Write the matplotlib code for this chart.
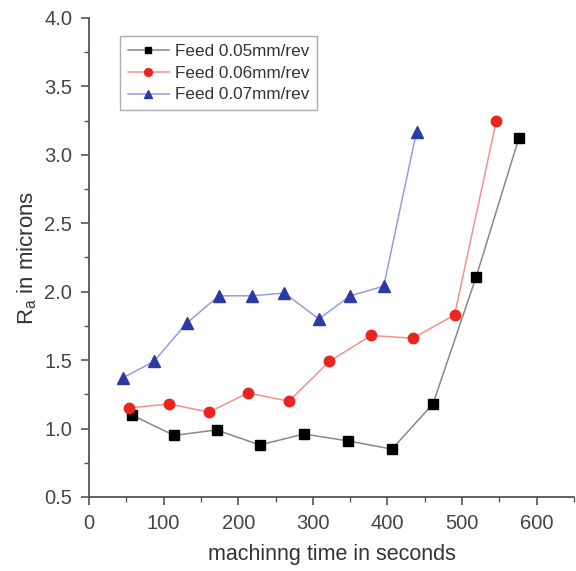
import matplotlib.pyplot as plt
from matplotlib.ticker import MultipleLocator

plt.rcParams['font.family'] = ['Liberation Sans', 'DejaVu Sans']
plt.rcParams['mathtext.fontset'] = 'custom'
plt.rcParams['mathtext.rm'] = 'Liberation Sans'

# datos
t_005 = [57, 114, 171, 229, 288, 347, 406, 461, 519, 576]
ra_005 = [1.10, 0.95, 0.99, 0.88, 0.96, 0.91, 0.85, 1.18, 2.11, 3.12]

t_006 = [54, 107, 161, 213, 268, 322, 378, 434, 490, 546]
ra_006 = [1.15, 1.18, 1.12, 1.26, 1.20, 1.49, 1.68, 1.66, 1.83, 3.25]

t_007 = [45, 87, 131, 174, 219, 262, 308, 350, 395, 439]
ra_007 = [1.37, 1.49, 1.77, 1.97, 1.97, 1.99, 1.80, 1.97, 2.04, 3.17]

fig = plt.figure(figsize=(5.76, 5.71), dpi=100)
ax = fig.add_axes([0.1545, 0.1296, 0.842, 0.839])

ax.plot(t_005, ra_005, color='#888888', lw=1.1, marker='s', ms=6.5,
        mfc='black', mec='black', label='Feed 0.05mm/rev')
ax.plot(t_006, ra_006, color='#f49090', lw=1.1, marker='o', ms=7.5,
        mfc='#e8261f', mec='#e8261f', label='Feed 0.06mm/rev')
ax.plot(t_007, ra_007, color='#9a9ae0', lw=1.1, marker='^', ms=8,
        mfc='#2d3aa3', mec='#2d3aa3', label='Feed 0.07mm/rev')

ax.set_xlim(0, 650)
ax.set_ylim(0.5, 4.0)
ax.xaxis.set_major_locator(MultipleLocator(100))
ax.xaxis.set_minor_locator(MultipleLocator(50))
ax.yaxis.set_major_locator(MultipleLocator(0.5))
ax.yaxis.set_minor_locator(MultipleLocator(0.25))

for s in ['top', 'right']:
    ax.spines[s].set_visible(False)
for s in ['left', 'bottom']:
    ax.spines[s].set_color('#555555')
    ax.spines[s].set_linewidth(1.3)

ax.tick_params(which='major', direction='out', length=6, width=1.2,
               color='#555555', labelsize=14.5, labelcolor='#444444', pad=6)
ax.tick_params(which='minor', direction='out', length=3.5, width=1.0,
               color='#555555')
ax.yaxis.set_major_formatter(plt.FormatStrFormatter('%.1f'))

ax.set_xlabel('machinng time in seconds', fontsize=15.5, color='#333333',
              labelpad=8)
ax.set_ylabel(r'R$_\mathregular{a}$ in microns', fontsize=16, color='#333333',
              labelpad=4)

leg = ax.legend(loc='upper left', bbox_to_anchor=(0.064, 0.962), fontsize=12.3,
                frameon=True, fancybox=False, edgecolor='#999999',
                handlelength=2.4, borderpad=0.45, labelspacing=0.4,
                handletextpad=0.35, numpoints=1, markerscale=0.75,
                borderaxespad=0)
leg.get_frame().set_linewidth(1.0)
for txt in leg.get_texts():
    txt.set_color('#333333')

plt.savefig('out.png', dpi=100)
